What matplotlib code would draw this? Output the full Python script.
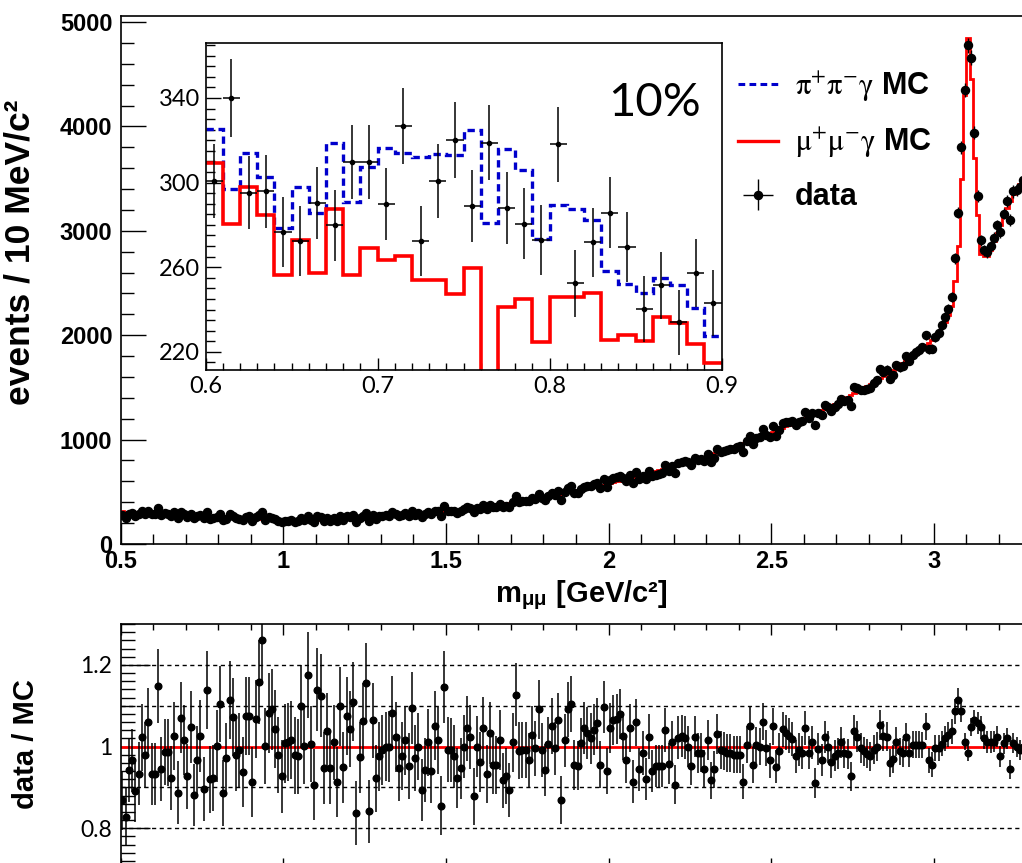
import numpy as np
import matplotlib
matplotlib.use("Agg")
import matplotlib.pyplot as plt
from matplotlib.ticker import MultipleLocator, NullFormatter

plt.rcParams['font.family'] = ['Liberation Sans', 'DejaVu Sans']
plt.rcParams['mathtext.fontset'] = 'stix'

# mu+mu-gamma MC, events per 10 MeV bin starting at 0.50 GeV
mc_counts = [
    318, 305, 300, 312, 296, 304, 309, 298, 302, 310,
    306, 300, 296, 304, 292, 288, 298, 284, 290, 286,
    282, 278, 286, 274, 270, 279, 265, 262, 271, 258,
    262, 255, 250, 258, 247, 252, 244, 249, 240, 246,
    242, 238, 236, 240, 232, 235, 229, 233, 226, 224,
    218, 222, 225, 220, 228, 224, 230, 226, 232, 229,
    234, 231, 237, 240, 236, 242, 239, 245, 243, 248,
    246, 252, 250, 256, 254, 260, 258, 265, 263, 270,
    268, 274, 272, 279, 277, 283, 281, 288, 286, 292,
    291, 296, 294, 300, 299, 305, 304, 310, 309, 315,
    316, 320, 322, 327, 329, 334, 336, 341, 344, 349,
    352, 357, 360, 366, 369, 375, 378, 384, 388, 394,
    398, 404, 408, 414, 419, 425, 430, 436, 441, 447,
    452, 458, 464, 470, 476, 482, 488, 495, 501, 508,
    514, 521, 527, 534, 541, 548, 555, 562, 569, 577,
    584, 592, 599, 607, 615, 623, 631, 639, 647, 655,
    663, 672, 680, 689, 697, 706, 715, 724, 733, 742,
    751, 760, 770, 779, 789, 798, 808, 818, 828, 838,
    848, 858, 869, 879, 890, 901, 911, 922, 933, 944,
    956, 967, 979, 990, 1002, 1014, 1026, 1038, 1050, 1063,
    1075, 1088, 1101, 1114, 1127, 1140, 1154, 1167, 1181, 1195,
    1209, 1223, 1238, 1252, 1267, 1282, 1297, 1312, 1328, 1344,
    1360, 1376, 1392, 1409, 1426, 1443, 1460, 1478, 1496, 1514,
    1532, 1551, 1570, 1590, 1610, 1630, 1650, 1671, 1692, 1714,
    1736, 1758, 1781, 1805, 1829, 1853, 1878, 1904, 1930, 1958,
    1990, 2030, 2080, 2130, 2190, 2280, 2520, 2850, 3500, 4300,
    4850, 4450, 3700, 3150, 2780, 2760, 2760, 2820, 2900, 2980,
    3060, 3140, 3220, 3290, 3350, 3400, 3450, 3490,
]

# data / MC in the same bins
ratio = [
    0.868, 0.827, 0.943, 0.966, 0.890, 0.933, 1.023, 0.980, 1.059, 0.933,
    0.933, 1.149, 0.945, 0.986, 0.986, 0.922, 1.026, 0.887, 1.071, 1.016,
    0.927, 1.047, 0.882, 0.967, 1.026, 0.896, 1.139, 0.920, 0.922, 1.002,
    1.104, 0.886, 0.971, 1.113, 1.072, 0.978, 0.992, 0.937, 1.075, 1.075,
    0.913, 1.067, 1.157, 1.260, 1.002, 1.082, 1.091, 1.042, 0.980, 0.927,
    1.008, 1.010, 1.016, 0.978, 0.976, 1.098, 1.002, 1.175, 1.006, 0.906,
    1.139, 1.124, 0.947, 1.037, 0.947, 1.010, 0.914, 1.098, 0.949, 1.075,
    1.042, 1.110, 0.838, 0.974, 1.063, 1.155, 0.841, 1.064, 0.922, 0.976,
    0.992, 1.000, 1.000, 1.083, 1.023, 0.947, 0.977, 1.015, 0.953, 1.094,
    0.971, 1.000, 0.894, 0.943, 1.010, 0.939, 1.051, 1.015, 0.855, 1.145,
    0.992, 0.992, 0.976, 0.922, 0.947, 1.000, 1.045, 1.024, 0.878, 1.000,
    0.963, 1.045, 0.933, 1.033, 0.955, 0.955, 1.015, 0.917, 0.928, 0.894,
    1.010, 1.127, 0.990, 0.992, 0.992, 0.966, 1.029, 0.996, 1.091, 0.992,
    0.943, 1.007, 1.051, 0.996, 1.064, 0.869, 1.015, 1.091, 1.104, 0.955,
    0.953, 1.008, 1.045, 1.033, 1.020, 1.041, 1.057, 0.955, 1.096, 0.939,
    1.045, 1.065, 1.067, 1.079, 1.026, 0.966, 1.045, 0.914, 1.059, 0.944,
    0.984, 0.920, 1.024, 0.941, 0.953, 0.953, 0.953, 1.041, 0.958, 1.010,
    0.906, 1.022, 1.026, 1.022, 1.000, 0.953, 1.024, 0.985, 0.985, 0.944,
    1.015, 0.917, 0.944, 1.031, 0.992, 0.988, 0.984, 0.984, 0.980, 0.980,
    0.980, 0.914, 1.004, 1.049, 0.955, 1.004, 1.000, 1.061, 0.996, 0.966,
    1.049, 0.951, 0.990, 1.042, 1.034, 1.026, 1.018, 0.976, 0.992, 0.985,
    1.045, 0.985, 1.010, 0.910, 0.993, 0.967, 1.023, 0.998, 0.961, 0.977,
    0.984, 1.010, 0.984, 0.982, 0.927, 1.039, 1.024, 0.996, 0.988, 0.982,
    0.976, 0.992, 1.000, 1.053, 1.026, 1.024, 0.959, 0.969, 1.012, 0.988,
    0.984, 1.024, 0.984, 1.004, 1.004, 1.004, 1.004, 1.049, 0.966, 0.955,
    0.996, 0.996, 1.007, 1.020, 1.029, 1.037, 1.086, 1.114, 1.086, 1.012,
    0.985, 1.047, 1.065, 1.057, 1.047, 1.020, 1.012, 1.012, 1.012, 1.024,
    0.976, 1.008, 1.020, 0.944, 1.008, 0.998, 0.992, 1.000,
]

# zoom of 0.6 - 0.9 GeV
inset_pipi = [
    325.2, 296.9, 314.2, 302.7, 278.3, 298.0, 285.4, 318.7, 290.9, 307.4,
    316.4, 314.0, 312.1, 313.4, 313.2, 325.0, 281.1, 315.7, 306.1, 273.1,
    289.6, 287.7, 282.2, 258.3, 252.0, 247.6, 255.1, 251.5, 240.5, 227.4,
]
inset_mumu = [
    309.4, 280.3, 298.0, 284.9, 256.5, 273.0, 257.3, 287.7, 256.5, 269.3,
    263.6, 265.2, 253.9, 253.9, 247.2, 259.8, 205.0, 241.0, 245.2, 224.7,
    245.7, 246.0, 248.0, 225.5, 227.9, 225.0, 236.5, 233.4, 223.6, 214.5,
]
inset_data = [
    300.8, 340.0, 295.3, 295.9, 276.7, 272.4, 290.5, 279.8, 309.8, 309.8,
    289.8, 326.8, 272.4, 300.8, 320.0, 288.8, 318.9, 288.0, 280.6, 272.8,
    318.1, 252.3, 271.7, 285.8, 269.6, 240.2, 251.5, 233.9, 257.3, 243.3,
]

bin_w = 0.01
mc = np.array(mc_counts, dtype=float)
r = np.array(ratio)
edges = 0.5 + bin_w * np.arange(len(mc) + 1)
centers = edges[:-1] + bin_w / 2
data = mc * r
data_err = np.sqrt(data)
r_err = r * np.sqrt(1.0 / data + 1.0 / mc)

in_edges = 0.6 + bin_w * np.arange(len(inset_data) + 1)
in_centers = in_edges[:-1] + bin_w / 2
in_data = np.array(inset_data)

W, H = 1022, 863
fig = plt.figure(figsize=(W / 100, H / 100), dpi=100)
fig.patch.set_facecolor('white')

def px(x0, y_top, w, h):
    # pixel box (from top-left) -> figure fraction
    return [x0 / W, 1 - (y_top + h) / H, w / W, h / H]

ax = fig.add_axes(px(120.7, 16.4, 910.6, 527.6))
axr = fig.add_axes(px(120.7, 624, 910.6, 245))
axi = fig.add_axes(px(205.5, 43, 516.2, 327))

bold = dict(fontweight='bold')

# ---- main panel
ax.stairs(mc, edges, baseline=None, color='red', lw=2.0, zorder=2)
h_data = ax.errorbar(centers, data, yerr=data_err, xerr=bin_w / 2, fmt='o', ms=5.8,
                     color='black', ecolor='black', elinewidth=1.0, capsize=0, zorder=3)
ax.set_xlim(0.5, 3.3)
ax.set_ylim(0, 5054)
ax.spines['right'].set_visible(False)
for s in ax.spines.values():
    s.set_linewidth(1.2)
ax.xaxis.set_major_locator(MultipleLocator(0.5))
ax.xaxis.set_minor_locator(MultipleLocator(0.1))
ax.yaxis.set_major_locator(MultipleLocator(1000))
ax.yaxis.set_minor_locator(MultipleLocator(200))
ax.xaxis.set_major_formatter(plt.FuncFormatter(lambda v, p: f"{v:g}"))
ax.tick_params(axis='y', which='major', direction='in', length=18, width=1.0, pad=6,
               labelsize=17)
ax.tick_params(axis='y', which='minor', direction='in', length=9.5, width=1.0)
ax.tick_params(axis='x', which='major', direction='in', length=15, width=1.0, pad=4,
               labelsize=17)
ax.tick_params(axis='x', which='minor', direction='in', length=7.5, width=1.0)
for lab in ax.get_xticklabels() + ax.get_yticklabels():
    lab.set_fontweight('bold')

ax.set_ylabel("events / 10 MeV/c²", fontsize=25.5, **bold)
ax.yaxis.set_label_coords(-0.093, 0.553)
ax.set_xlabel(r"m$_{\mathregular{\mu\mu}}$ [GeV/c²]", fontsize=21, ha='right',
              va='center', **bold)
ax.xaxis.set_label_coords(0.601, -0.0967)

# ---- inset
axi.stairs(inset_pipi, in_edges, baseline=None, color='#0000cc', lw=2.4,
           ls=(0, (2.2, 1.4)), zorder=2)
axi.stairs(inset_mumu, in_edges, baseline=None, color='red', lw=2.6, zorder=2)
axi.errorbar(in_centers, in_data, yerr=np.sqrt(in_data), xerr=bin_w / 2, fmt='o',
             ms=3, color='black', elinewidth=1.1, capsize=0, zorder=3)
axi.set_xlim(0.6, 0.9)
axi.set_ylim(211.4, 366)
for s in axi.spines.values():
    s.set_linewidth(1.2)
axi.xaxis.set_major_locator(MultipleLocator(0.1))
axi.xaxis.set_minor_locator(MultipleLocator(0.01))
axi.yaxis.set_major_locator(MultipleLocator(40, offset=20))
axi.yaxis.set_minor_locator(MultipleLocator(5))
axi.xaxis.set_major_formatter(plt.FuncFormatter(lambda v, p: f"{v:.1f}"))
axi.yaxis.set_major_formatter(plt.FuncFormatter(lambda v, p: f"{v:.0f}"))
axi.tick_params(axis='y', which='major', direction='in', length=11, width=1.0, pad=4,
                labelsize=17, labelfontfamily='Lato')
axi.tick_params(axis='y', which='minor', direction='in', length=6.5, width=1.0)
axi.tick_params(axis='x', which='major', direction='in', length=8.5, width=1.0, pad=4,
                labelsize=17, labelfontfamily='Lato')
axi.tick_params(axis='x', which='minor', direction='in', length=5, width=1.0)
axi.text(0.87, 0.815, "10%", transform=axi.transAxes, ha='center', va='center',
         fontsize=34, family='Lato')

# ---- legend
h_pipi = plt.Line2D([], [], color='#0000cc', lw=2.2, ls=(0, (2.2, 1.4)))
h_mumu = plt.Line2D([], [], color='red', lw=2.4)
ax.legend([h_pipi, h_mumu, h_data],
          [r"$\mathrm{\pi^{+}\pi^{-}\gamma}$ MC", r"$\mathrm{\mu^{+}\mu^{-}\gamma}$ MC", "data"],
          loc='upper left', bbox_to_anchor=(738 / W, 1 - 70 / H),
          bbox_transform=fig.transFigure, frameon=False, numpoints=1,
          handlelength=1.3, handletextpad=0.55, labelspacing=0.72,
          borderpad=0, borderaxespad=0, prop=dict(size=22, weight='bold'))

# ---- ratio panel
for yv in [0.8, 0.9, 1.1, 1.2]:
    axr.axhline(yv, color='black', lw=1.0, ls=(0, (3, 2.5)), zorder=1)
axr.axhline(1.0, color='red', lw=2.0, zorder=2)
axr.errorbar(centers, r, yerr=r_err, xerr=bin_w / 2, fmt='o', ms=4.8,
             color='black', elinewidth=1.1, capsize=0, zorder=3)
axr.set_xlim(0.5, 3.3)
axr.set_ylim(0.7, 1.3)
axr.spines['right'].set_visible(False)
for s in axr.spines.values():
    s.set_linewidth(1.2)
axr.xaxis.set_major_locator(MultipleLocator(0.5))
axr.xaxis.set_minor_locator(MultipleLocator(0.1))
axr.xaxis.set_major_formatter(NullFormatter())
axr.yaxis.set_major_locator(MultipleLocator(0.2))
axr.yaxis.set_minor_locator(MultipleLocator(0.02))
axr.yaxis.set_major_formatter(plt.FuncFormatter(lambda v, p: f"{v:g}"))
axr.tick_params(axis='x', which='major', direction='in', length=8, width=1.0,
                top=True, bottom=True)
axr.tick_params(axis='x', which='minor', direction='in', length=4.5, width=1.0,
                top=True, bottom=True)
axr.tick_params(axis='y', which='major', direction='in', length=21, width=1.0, pad=6,
                labelsize=16.5, labelfontfamily='Lato')
axr.tick_params(axis='y', which='minor', direction='in', length=10, width=1.0)
axr.set_ylabel("data / MC", fontsize=21, **bold)
axr.yaxis.set_label_coords(-0.0886, 0.51)

fig.savefig("out.png", dpi=100)
